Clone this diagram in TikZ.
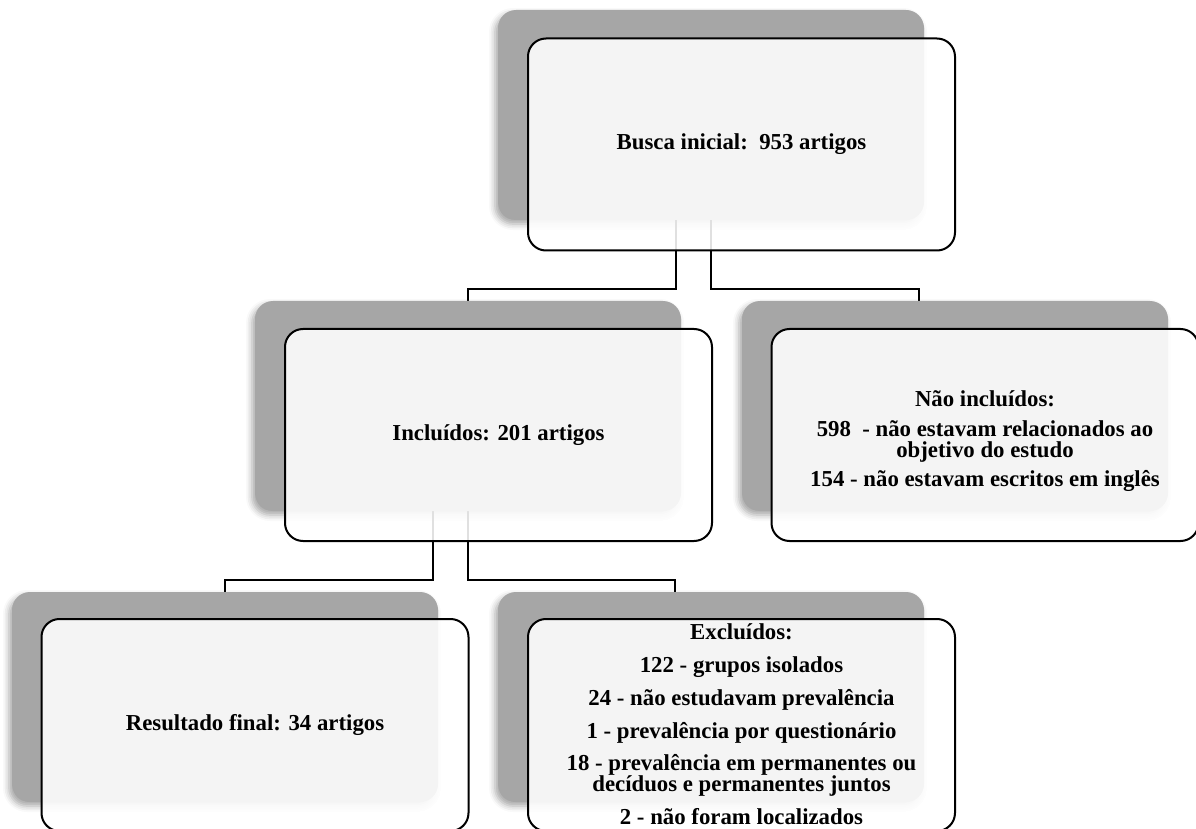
\documentclass[tikz,border=0pt]{standalone}
\usepackage{fontspec}
\setmainfont{Liberation Serif}
\usetikzlibrary{shadows.blur,backgrounds}
\definecolor{backgray}{HTML}{A6A6A6}
\setlength{\lineskiplimit}{-5pt}

\begin{document}
\begin{tikzpicture}[x=0.5pt,y=-0.5pt,
	backbox/.style={rectangle,rounded corners=9pt,fill=backgray,minimum width=213pt,minimum height=105pt,inner sep=0pt,
		blur shadow={shadow xshift=-1.5pt,shadow yshift=-2pt,shadow blur radius=3pt,shadow opacity=35}},
	frontbox/.style={rectangle,rounded corners=9pt,draw=black,line width=1pt,fill=white,fill opacity=0.88,
		minimum width=213.5pt,minimum height=106pt,inner sep=0pt},
	boxtext/.style={inner sep=0pt,align=center,font=\fontsize{11.4pt}{10.2pt}\selectfont\bfseries},
	link/.style={line width=1pt}]
		\clip[use as bounding box] (0,0) rectangle (1196,829);
		\node[backbox] (busca-bg) at (711,115) {};
		\node[frontbox] (busca) at (741.5,144.5) {};
		\node[boxtext] (busca-txt) at (busca) {Busca inicial:\ \ 953 artigos};
		\node[backbox] (incl-bg) at (468,406) {};
		\node[frontbox] (incl) at (498.5,435) {};
		\node[boxtext] (incl-txt) at (incl) {Incluídos: 201 artigos};
		\node[backbox] (naoincl-bg) at (955,406) {};
		\node[frontbox] (naoincl) at (985,435) {};
		\node[boxtext] (naoincl-txt) at (985,441) {Não incluídos:\\[5pt]
			598\ \ - não estavam relacionados ao\\ objetivo do estudo\\[4.5pt]
			154 - não estavam escritos em inglês};
		\node[backbox] (result-bg) at (225,697) {};
		\node[frontbox] (result) at (255,725) {};
		\node[boxtext] (result-txt) at (result) {Resultado final: 34 artigos};
		\node[backbox] (excl-bg) at (711,697) {};
		\node[frontbox] (excl) at (741.5,725) {};
		\node[boxtext] (excl-txt) at (741.5,724) {Excluídos:\\[6.2pt]
			122 - grupos isolados\\[6.2pt]
			24 - não estudavam prevalência\\[6.2pt]
			1 - prevalência por questionário\\[6.2pt]
			18 - prevalência em permanentes ou\\ decíduos e permanentes juntos\\[6.2pt]
			2 - não foram localizados};
		\begin{pgfonlayer}{background}
		\draw[link] ([xshift=-17.5pt]busca-bg.south) -- ++(0,69) -| (incl-bg.north);
		\draw[link] (busca-bg.south) -- ++(0,69) -| ([xshift=-18pt]naoincl-bg.north);
		\draw[link] ([xshift=-17.5pt]incl-bg.south) -- ++(0,69) -| (result-bg.north);
		\draw[link] (incl-bg.south) -- ++(0,69) -| ([xshift=-18pt]excl-bg.north);
		\end{pgfonlayer}
\end{tikzpicture}
\end{document}
